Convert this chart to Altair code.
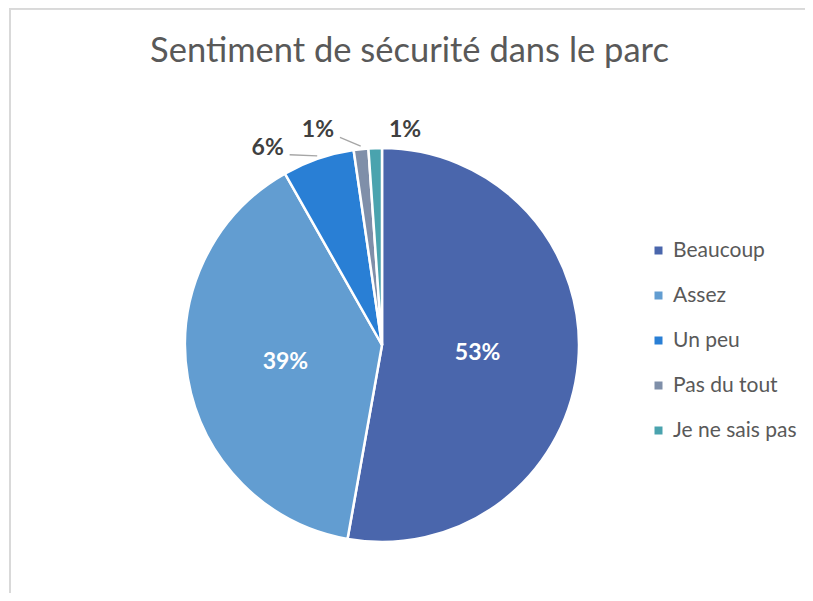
import altair as alt
import pandas as pd

# ---- data ----
categories = ["Beaucoup", "Assez", "Un peu", "Pas du tout", "Je ne sais pas"]
values = [52.8, 39.0, 5.9, 1.2, 1.1]
labels = ["53%", "39%", "6%", "1%", "1%"]

# ---- styling / label layout ----
colors = ["#4A66AC", "#629DD1", "#297FD5", "#7F8FA9", "#4AA3AE"]
label_inside = [True, True, False, False, False]
label_shift_deg = [0, 0, -11.2, -10.5, 8.1]
label_radius = [96, 98, 228, 224, 216]
has_leader = [False, False, True, True, False]

CX, CY, R = 374, 337, 197
W, H = 797, 585
FONT = "Lato"

df = pd.DataFrame({
    "cat": categories,
    "val": values,
    "lab": labels,
    "ord": list(range(len(categories))),
    "inside": label_inside,
    "shift": label_shift_deg,
    "lr": label_radius,
    "leader": has_leader,
})

base = (
    alt.Chart(df)
    .transform_window(cum="sum(val)", sort=[alt.SortField("ord", order="ascending")], frame=[None, 0])
    .transform_joinaggregate(total="sum(val)")
    .transform_calculate(mid="(datum.cum - datum.val / 2) / datum.total * 2 * PI")
    .transform_calculate(la="datum.mid + datum.shift * PI / 180")
    .transform_calculate(
        lx=f"{CX} + datum.lr * sin(datum.la)",
        ly=f"{CY} - datum.lr * cos(datum.la)",
        ex=f"{CX} + {R + 3} * sin(datum.mid)",
        ey=f"{CY} - {R + 3} * cos(datum.mid)",
    )
    .transform_calculate(sx="datum.lx + 22", sy="datum.ly + 7")
)

arcs = alt.Chart(df).mark_arc(radius=R, stroke="white", strokeWidth=2.5).encode(
    theta=alt.Theta("val:Q", stack=True),
    order=alt.Order("ord:Q", sort="ascending"),
    color=alt.Color(
        "cat:N",
        sort=categories,
        scale=alt.Scale(domain=categories, range=colors),
        legend=alt.Legend(
            title=None,
            orient="none",
            legendX=640,
            legendY=232,
            symbolType="square",
            symbolSize=64,
            symbolStrokeWidth=0,
            symbolOpacity=1,
            labelFont=FONT,
            labelFontSize=21,
            labelColor="#595959",
            rowPadding=23,
            labelOffset=4,
            padding=0,
        ),
    ),
    x=alt.value(CX),
    y=alt.value(CY),
)

inside_txt = base.transform_filter("datum.inside").mark_text(
    font=FONT, fontWeight="bold", fontSize=23, color="white", align="center", baseline="middle"
).encode(x=alt.X("lx:Q", scale=None), y=alt.Y("ly:Q", scale=None), text="lab:N")

outside_txt = base.transform_filter("!datum.inside").mark_text(
    font=FONT, fontWeight="bold", fontSize=23, color="#404040", align="center", baseline="middle"
).encode(x=alt.X("lx:Q", scale=None), y=alt.Y("ly:Q", scale=None), text="lab:N")

leaders = base.transform_filter("datum.leader").mark_rule(color="#A6A6A6", strokeWidth=1.3).encode(
    x=alt.X("sx:Q", scale=None), y=alt.Y("sy:Q", scale=None),
    x2="ex:Q", y2="ey:Q",
)

border_left = alt.Chart(df).mark_rule(color="#D9D9D9", strokeWidth=1.5).encode(
    x=alt.value(2), y=alt.value(0), y2=alt.value(H)
)
border_top = alt.Chart(df).mark_rule(color="#D9D9D9", strokeWidth=1.5).encode(
    x=alt.value(2), x2=alt.value(W), y=alt.value(0.75)
)

chart = (
    alt.layer(border_left, border_top, arcs, leaders, inside_txt, outside_txt)
    .properties(
        width=W,
        height=H,
        autosize=alt.AutoSizeParams(type="none"),
        padding={"left": 0, "top": 0, "right": 0, "bottom": 0},
        title=alt.TitleParams(
            "Sentiment de sécurité dans le parc",
            font=FONT,
            fontSize=34.5,
            fontWeight="normal",
            color="#595959",
            anchor="middle",
            frame="group",
            offset=-62,
            dx=3,
        ),
    )
    .configure_view(stroke=None)
)

chart.save("out.html", embed_options={"renderer": "svg", "actions": False})
